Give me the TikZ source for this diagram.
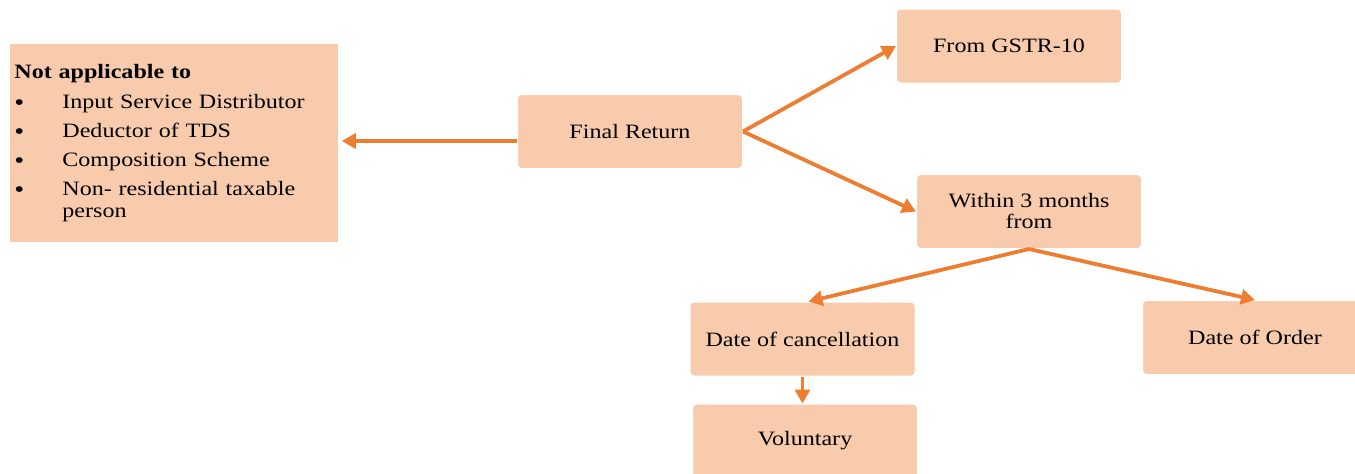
\documentclass[tikz,border=0pt]{standalone}
\usepackage{fontspec}
\setmainfont{Liberation Serif}[FakeStretch=1.18]
\usetikzlibrary{arrows.meta}
\definecolor{boxfill}{HTML}{F8CBAD}
\definecolor{arrowc}{HTML}{ED7D31}
\newcommand\itemmark{\makebox[24pt][l]{\raisebox{-1pt}{\fontsize{12}{12}\selectfont\textbullet}}}
\begin{document}
\begin{tikzpicture}[x=0.5pt,y=-0.5pt,
  stepbox/.style={fill=boxfill, draw=white, line width=0.5pt, rounded corners=2pt,
    minimum width=112.5pt, minimum height=37pt, inner sep=0pt, align=center,
    font=\fontsize{10.2}{10.5}\selectfont},
  listbox/.style={fill=boxfill, anchor=north west, minimum width=164pt, minimum height=99pt,
    text width=160pt, inner xsep=1pt, inner ysep=0pt, align=left,
    font=\fontsize{10.2}{11}\selectfont},
  link/.style={draw=arrowc, line width=1.9pt, -{Triangle[length=7pt,width=7.5pt]}}]
\useasboundingbox (0,0) rectangle (1355,473);

% list of exceptions
\node[listbox] (na) at (10,44) {%
  \textbf{Not applicable to}\\[3.6pt]
  \itemmark Input Service Distributor\\[3.6pt]
  \itemmark Deductor of TDS\\[3.6pt]
  \itemmark Composition Scheme\\[3.6pt]
  \itemmark Non- residential taxable\\
  \hspace*{24pt}person};

% flow boxes
\node[stepbox] (fr)  at (630,131.5) {Final Return};
\node[stepbox] (g)   at (1009,46)   {From GSTR-10};
\node[stepbox] (w)   at (1029,211.5) {Within 3 months\\from};
\node[stepbox] (dc)  at (802.5,339) {Date of cancellation};
\node[stepbox] (do)  at (1255,337.5) {Date of Order};
\node[stepbox] (vol) at (805,441)   {Voluntary};

% connectors
\coordinate (fl) at ([yshift=-4.75pt]fr.west);
\draw[link, shorten >=1.5pt] (fl) -- (fl -| na.east);
\draw[link] (fr.east) -- (g.west);
\draw[link] (fr.east) -- (w.west);
\draw[link] (w.south) -- ([xshift=3pt]dc.north);
\draw[link] (w.south) -- (do.north);
\draw[link] (dc.south) -- (vol.north -| dc.south);
\end{tikzpicture}
\end{document}
